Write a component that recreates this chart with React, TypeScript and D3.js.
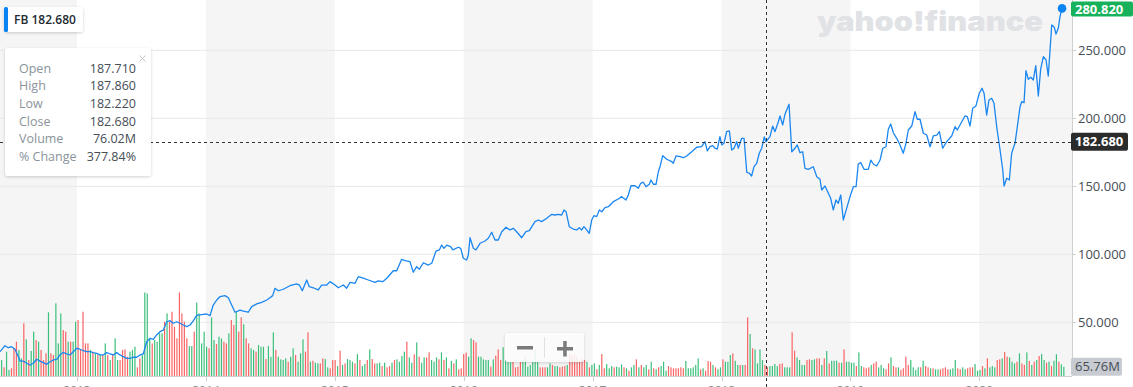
import React, { useEffect, useRef } from 'react';
import * as d3 from 'd3';

// weekly closes: time as decimal year, price in USD
const priceYears = [
  2012.403, 2012.441, 2012.467, 2012.493, 2012.519, 2012.545, 2012.558, 2012.583, 2012.61, 2012.635,
  2012.661, 2012.687, 2012.713, 2012.739, 2012.765, 2012.791, 2012.816, 2012.843, 2012.868, 2012.894,
  2012.92, 2012.946, 2012.971, 2012.998, 2013.023, 2013.049, 2013.075, 2013.101, 2013.126, 2013.153,
  2013.178, 2013.204, 2013.23, 2013.256, 2013.282, 2013.308, 2013.334, 2013.359, 2013.386, 2013.411,
  2013.437, 2013.463, 2013.489, 2013.514, 2013.541, 2013.566, 2013.592, 2013.618, 2013.644, 2013.67,
  2013.696, 2013.722, 2013.747, 2013.774, 2013.799, 2013.825, 2013.851, 2013.877, 2013.902, 2013.929,
  2013.954, 2013.98, 2014.006, 2014.032, 2014.057, 2014.084, 2014.109, 2014.148, 2014.174, 2014.2,
  2014.226, 2014.265, 2014.29, 2014.329, 2014.355, 2014.394, 2014.433, 2014.472, 2014.497, 2014.518,
  2014.536, 2014.562, 2014.6, 2014.652, 2014.704, 2014.725, 2014.748, 2014.782, 2014.802, 2014.833,
  2014.872, 2014.898, 2014.937, 2014.963, 2015.002, 2015.027, 2015.066, 2015.092, 2015.118, 2015.157,
  2015.182, 2015.221, 2015.26, 2015.312, 2015.338, 2015.372, 2015.403, 2015.454, 2015.48, 2015.519,
  2015.545, 2015.583, 2015.609, 2015.635, 2015.656, 2015.687, 2015.725, 2015.752, 2015.785, 2015.811,
  2015.829, 2015.847, 2015.868, 2015.899, 2015.915, 2015.958, 2015.977, 2015.997, 2016.023, 2016.036,
  2016.049, 2016.075, 2016.095, 2016.127, 2016.165, 2016.191, 2016.217, 2016.243, 2016.268, 2016.295,
  2016.328, 2016.359, 2016.385, 2016.411, 2016.45, 2016.483, 2016.509, 2016.553, 2016.579, 2016.605,
  2016.644, 2016.683, 2016.708, 2016.734, 2016.76, 2016.778, 2016.794, 2016.819, 2016.85, 2016.877,
  2016.897, 2016.915, 2016.933, 2016.954, 2016.974, 2016.993, 2017.011, 2017.032, 2017.052, 2017.071,
  2017.096, 2017.122, 2017.161, 2017.199, 2017.226, 2017.259, 2017.277, 2017.298, 2017.329, 2017.355,
  2017.373, 2017.393, 2017.414, 2017.44, 2017.453, 2017.471, 2017.492, 2017.51, 2017.523, 2017.544,
  2017.575, 2017.614, 2017.626, 2017.647, 2017.678, 2017.704, 2017.73, 2017.769, 2017.808, 2017.846,
  2017.872, 2017.89, 2017.911, 2017.932, 2017.95, 2017.967, 2017.988, 2018.002, 2018.019, 2018.04,
  2018.061, 2018.079, 2018.097, 2018.118, 2018.13, 2018.157, 2018.175, 2018.196, 2018.216, 2018.234,
  2018.252, 2018.273, 2018.293, 2018.312, 2018.332, 2018.345, 2018.376, 2018.397, 2018.415, 2018.441,
  2018.454, 2018.475, 2018.493, 2018.524, 2018.545, 2018.57, 2018.588, 2018.609, 2018.63, 2018.648,
  2018.673, 2018.712, 2018.739, 2018.764, 2018.777, 2018.803, 2018.829, 2018.847, 2018.867, 2018.888,
  2018.906, 2018.925, 2018.945, 2018.971, 2018.997, 2019.023, 2019.044, 2019.061, 2019.08, 2019.106,
  2019.139, 2019.158, 2019.178, 2019.204, 2019.23, 2019.251, 2019.276, 2019.294, 2019.313, 2019.333,
  2019.359, 2019.385, 2019.41, 2019.431, 2019.449, 2019.476, 2019.501, 2019.519, 2019.54, 2019.566,
  2019.592, 2019.618, 2019.643, 2019.67, 2019.69, 2019.716, 2019.747, 2019.786, 2019.812, 2019.829,
  2019.864, 2019.889, 2019.907, 2019.928, 2019.949, 2019.974, 2020.0, 2020.021, 2020.037, 2020.057,
  2020.075, 2020.096, 2020.114, 2020.135, 2020.161, 2020.182, 2020.192, 2020.213, 2020.233, 2020.251,
  2020.277, 2020.295, 2020.316, 2020.329, 2020.347, 2020.362, 2020.38, 2020.399, 2020.419, 2020.438,
  2020.458, 2020.476, 2020.497, 2020.518, 2020.535, 2020.562, 2020.582, 2020.595, 2020.613, 2020.626,
  2020.642,
];

const priceClose = [
  28.4, 32.8, 31.3, 32.1, 30.2, 24.7, 21.5, 21.5, 19.9, 18.6,
  19.9, 22.8, 21.5, 20.3, 19.1, 21.0, 22.3, 22.8, 26.0, 27.9,
  26.7, 26.0, 28.4, 30.9, 30.2, 29.1, 28.4, 28.4, 27.7, 27.2,
  26.0, 26.0, 27.7, 26.7, 26.0, 27.7, 26.0, 24.7, 23.5, 23.5,
  24.3, 24.3, 26.0, 26.7, 35.7, 38.2, 37.5, 40.7, 43.1, 44.3,
  50.4, 51.2, 49.3, 50.4, 49.3, 48.0, 46.8, 48.0, 51.0, 55.2,
  55.4, 55.9, 56.1, 54.9, 62.7, 66.4, 68.8, 69.6, 68.1, 62.7,
  57.4, 59.0, 58.3, 57.4, 61.5, 63.5, 64.7, 66.4, 68.1, 69.6,
  75.0, 73.2, 74.3, 76.9, 78.2, 77.4, 73.2, 81.1, 76.2, 75.4,
  73.8, 77.4, 77.4, 79.9, 77.4, 75.4, 77.4, 75.0, 79.4, 78.7,
  83.5, 82.4, 81.1, 79.4, 80.4, 79.9, 82.4, 87.9, 87.9, 96.3,
  95.3, 94.6, 86.8, 90.9, 89.0, 93.8, 92.1, 93.4, 102.4, 103.2,
  106.8, 104.4, 106.8, 105.6, 103.2, 105.2, 104.4, 97.1, 95.8, 99.5,
  112.2, 104.4, 103.2, 108.1, 109.8, 111.8, 116.2, 110.5, 110.5, 116.6,
  119.9, 117.9, 119.1, 116.6, 112.2, 116.6, 117.4, 124.0, 125.2, 124.0,
  126.5, 129.4, 128.9, 129.4, 128.9, 132.6, 131.3, 120.3, 118.6, 117.9,
  119.6, 117.9, 120.3, 117.9, 115.4, 125.2, 128.4, 127.7, 132.6, 131.3,
  134.3, 135.0, 138.7, 140.7, 142.4, 139.9, 143.6, 150.4, 150.4, 148.5,
  152.2, 153.0, 149.7, 151.5, 154.6, 151.5, 151.5, 160.7, 164.4, 172.5,
  169.9, 168.1, 166.9, 172.3, 171.8, 171.0, 172.3, 175.4, 178.7, 179.1,
  182.8, 176.0, 179.1, 179.9, 178.0, 177.4, 186.5, 180.4, 181.6, 190.2,
  190.7, 176.7, 178.0, 182.8, 178.0, 185.3, 185.3, 160.3, 159.6, 157.6,
  164.4, 166.9, 174.3, 178.0, 186.3, 182.68, 186.5, 194.3, 190.2, 197.5,
  201.7, 195.1, 203.2, 210.3, 175.4, 178.0, 180.4, 174.7, 175.4, 163.2,
  162.5, 164.4, 157.1, 155.2, 147.3, 150.2, 144.9, 141.2, 132.6, 139.9,
  137.5, 143.6, 125.2, 133.8, 142.4, 149.7, 149.7, 166.4, 167.4, 162.5,
  162.5, 169.3, 166.4, 164.9, 169.3, 178.0, 179.1, 191.9, 195.8, 189.4,
  185.3, 180.4, 174.3, 181.6, 191.4, 194.3, 204.9, 199.3, 199.3, 189.0,
  187.7, 179.1, 187.0, 187.7, 190.2, 178.0, 182.8, 187.0, 193.8, 191.4,
  197.5, 201.7, 201.2, 194.3, 207.4, 209.1, 218.4, 222.1, 218.4, 202.4,
  213.5, 214.7, 211.0, 193.8, 176.7, 162.0, 150.2, 155.9, 154.6, 174.3,
  181.6, 193.8, 208.5, 212.2, 211.5, 235.0, 228.7, 230.2, 228.2, 238.7,
  216.4, 236.0, 245.3, 242.9, 231.1, 268.6, 266.9, 262.0, 266.2, 274.7,
  280.82,
];

// weekly volume in millions of shares, one bar per week from the IPO week
const volumeStart = new Date(2012, 4, 18);
const weeklyVolume = [
  // 2012 - 2013
  600, 420,
  114, 62, 174, 43, 55, 198, 245, 186, 126, 376, 262, 114, 179, 317, 257, 245, 186, 114, 162, 455,
  162, 150, 519, 233, 447, 328, 317, 245, 245, 245, 388, 400, 186, 459, 233, 233, 186, 174, 162, 150,
  150, 150, 233, 150, 114, 150, 269, 114, 114, 186, 190, 138, 174, 186, 209, 62, 126, 150, 597, 590,
  269, 233, 257, 245, 305, 305, 388, 447, 388, 459, 352, 269, 597, 447, 388, 269, 214, 214, 317, 524,
  // 2014 - 2015
  447, 233, 317, 209, 198, 419, 257, 228, 281, 269, 245, 233, 305, 400, 364, 459, 317, 419, 369, 269,
  233, 198, 186, 174, 221, 209, 209, 121, 214, 138, 312, 186, 138, 119, 114, 126, 102, 138, 198, 150,
  102, 162, 262, 174, 312, 102, 109, 95, 90, 90, 126, 121, 62, 55, 114, 114, 71, 181, 79, 90,
  121, 114, 102, 90, 157, 114, 71, 86, 114, 190, 121, 90, 90, 95, 71, 95, 62, 71, 95, 114, 119, 102,
  // 2016 - 2018
  143, 174, 245, 133, 95, 155, 240, 138, 95, 133, 133, 169, 114, 102, 133, 119, 169, 114, 133, 55,
  107, 90, 119, 48, 55, 157, 167, 138, 269, 257, 240, 138, 138, 119, 114, 114, 67, 119, 145, 190,
  114, 205, 114, 102, 98, 102, 62, 67, 102, 114, 138, 67, 79, 102, 186, 102, 62, 62, 62, 62,
  90, 79, 71, 71, 62, 67, 71, 79, 157, 150, 157, 138, 109, 126, 114, 102, 62,
  79, 90, 48, 79, 157, 55, 86, 55, 71, 62, 67, 62, 83, 62, 55, 38, 62, 79, 119, 62,
  79, 62, 79, 48, 102, 55, 48, 62, 71, 102, 38, 71, 62, 55, 55,
  55, 62, 55, 107, 55, 55, 62, 79, 126, 48, 55, 38, 107, 102, 79, 62,
  48, 62, 119, 102, 102, 150, 162, 109, 79, 79, 79, 79, 419, 300, 198, 190, 90, 190, 114, 79,
  62, 71, 71, 86, 71, 86, 90, 62, 62, 62, 312, 181, 133, 114,
  // 2018 - 2020
  79, 79,
  114, 119, 114, 119, 126, 126, 79, 126, 179, 90, 109, 109, 109, 95, 95, 190, 102, 102, 95, 95,
  71, 169, 71, 62, 55, 62, 79, 90, 102, 62, 79, 55, 48, 90, 133, 71, 62, 62, 43, 55,
  138, 79, 114, 62, 43, 62, 62, 109, 71, 62, 55, 55, 48, 48, 48, 55, 62,
  48, 48, 55, 114, 55, 48, 62, 48, 55, 62, 62, 86, 38, 43, 71, 55,
  126, 62, 71, 62, 114, 119, 126, 171, 138, 133, 102, 90, 102, 162, 90, 79, 169, 107, 79, 102,
  114, 143, 157, 114, 95, 102, 71, 109, 155, 102, 83, 65.76,
];
// g = week closed up, r = week closed down
const weeklyDir = (
  'rr' +
  'grggrrrggr' + 'grggrgrrrg' + 'rrgggrrgrg' + 'grrrrrgrgr' + 'grgrgrggrr' + 'rrgggrrggg' + 'grggggrgrr' + 'rrrrrrggrg' +
  'ggggrggrgg' + 'rrgrrgrrgr' + 'rggrgggrgg' + 'grggggrggr' + 'gggrrgrggr' + 'rggrrrgrgr' + 'gggrgrggrg' + 'rrggrgrrgr' + 'gg' +
  'ggrggrgrgg' + 'rrgggrgrgr' + 'grgrrrrggr' + 'rgggggrgrr' + 'rggggrrrrg' + 'ggggggrrrg' + 'grggrrrgrr' + 'rrrrrgr' +
  'ggrgrrgggr' + 'gggrgrggrg' + 'rggrgrgrgg' + 'grrrr' + 'rrrggggggr' + 'grrrgr' +
  'ggrgggrggr' + 'grrgrggggr' + 'rggggrrggg' + 'rrgg' +
  'gg' + 'rrggrrgrgr' + 'gggrgrgggg' + 'rggrrrgrrg' + 'ggrrgrrgrr' + 'rrggggrgrr' + 'grggrrr' +
  'rgggrrggrrrgggrg' + 'rgggrrgrrgggrgrrgrgrgrggrgrggrgg'
).split('');

const yearTicks = [2013, 2014, 2015, 2016, 2017, 2018, 2019, 2020];
const priceTicks = [50, 100, 150, 200, 250];

// crosshair / tooltip
const crossYear = 2018.345;
const crossClose = 182.68;
const tipLabels = ['Open', 'High', 'Low', 'Close', 'Volume', '% Change'];
const tipValues = ['187.710', '187.860', '182.220', '182.680', '76.02M', '377.84%'];

const W = 1133;
const H = 387;
const plotRight = 1072;
const plotBottom = 376;
const font = "'Open Sans', 'Noto Sans', sans-serif";

const decYear = (d: Date) => {
  const y = d.getFullYear();
  const s = new Date(y, 0, 1).getTime();
  const e = new Date(y + 1, 0, 1).getTime();
  return y + (d.getTime() - s) / (e - s);
};

const App = () => {
  const ref = useRef<SVGSVGElement | null>(null);

  useEffect(() => {
    const svg = d3.select(ref.current);
    svg.selectAll('*').remove();

    const x = d3.scaleLinear().domain([2013, 2020]).range([77, 979.3]);
    const y = d3.scaleLinear().domain([0, 250]).range([390.3, 50.3]);
    const yVol = d3.scaleLinear().domain([0, 600]).range([plotBottom, plotBottom - 84]);

    const defs = svg.append('defs');
    defs.append('clipPath').attr('id', 'plot-clip')
      .append('rect').attr('x', 0).attr('y', 0).attr('width', plotRight).attr('height', plotBottom);
    const shadow = defs.append('filter').attr('id', 'shadow')
      .attr('x', '-10%').attr('y', '-10%').attr('width', '120%').attr('height', '130%');
    shadow.append('feDropShadow').attr('dx', 0).attr('dy', 1).attr('stdDeviation', 1.5)
      .attr('flood-color', '#000').attr('flood-opacity', 0.18);

    const plot = svg.append('g').attr('clip-path', 'url(#plot-clip)');

    // alternating year bands
    const bandYears = d3.range(2012, 2021).filter((yr) => yr % 2 === 0);
    plot.append('g').selectAll('rect').data(bandYears).enter().append('rect')
      .attr('x', (d) => Math.max(0, x(d)))
      .attr('y', 0)
      .attr('width', (d) => Math.min(plotRight, x(d + 1)) - Math.max(0, x(d)))
      .attr('height', plotBottom)
      .attr('fill', '#f5f5f5');

    // horizontal grid
    plot.append('g').selectAll('line').data(priceTicks).enter().append('line')
      .attr('x1', 0).attr('x2', plotRight)
      .attr('y1', (d) => y(d)).attr('y2', (d) => y(d))
      .attr('stroke', '#e8e8e8').attr('stroke-width', 1);

    // watermark
    svg.append('text')
      .attr('x', 817).attr('y', 31)
      .attr('textLength', 226).attr('lengthAdjust', 'spacingAndGlyphs')
      .attr('font-family', "Inter, 'DejaVu Sans', sans-serif")
      .attr('font-weight', 900).attr('font-size', 27)
      .attr('fill', '#e0e2e6')
      .text('yahoo!finance');

    // volume bars
    const vols = weeklyVolume.map((v, i) => ({
      t: decYear(d3.timeDay.offset(volumeStart, i * 7)),
      v,
      up: weeklyDir[i] !== 'r',
    }));
    plot.append('g').selectAll('rect').data(vols).enter().append('rect')
      .attr('x', (d) => x(d.t) - 0.6)
      .attr('y', (d) => yVol(d.v))
      .attr('width', 1.2)
      .attr('height', (d) => plotBottom - yVol(d.v))
      .attr('fill', (d) => (d.up ? '#3bc07c' : '#f96464'));

    // price line
    const pts = priceYears.map((t, i) => ({ t, p: priceClose[i] }));
    const line = d3.line<{ t: number; p: number }>().x((d) => x(d.t)).y((d) => y(d.p));
    plot.append('path').datum(pts)
      .attr('d', line)
      .attr('fill', 'none')
      .attr('stroke', '#1a86f0')
      .attr('stroke-width', 1.3)
      .attr('stroke-linejoin', 'round');

    const last = pts[pts.length - 1];
    svg.append('circle').attr('cx', x(last.t)).attr('cy', y(last.p)).attr('r', 4.3).attr('fill', '#0a84f5');

    // axes lines
    svg.append('line').attr('x1', plotRight + 0.5).attr('x2', plotRight + 0.5).attr('y1', 0).attr('y2', plotBottom)
      .attr('stroke', '#cfcfcf');
    svg.append('line').attr('x1', 0).attr('x2', plotRight).attr('y1', plotBottom + 0.5).attr('y2', plotBottom + 0.5)
      .attr('stroke', '#cfcfcf');

    // x ticks and (cropped) labels
    const xt = svg.append('g');
    xt.selectAll('line').data(yearTicks).enter().append('line')
      .attr('x1', (d) => Math.round(x(d)) + 0.5).attr('x2', (d) => Math.round(x(d)) + 0.5)
      .attr('y1', plotBottom).attr('y2', plotBottom + 5)
      .attr('stroke', '#cfcfcf');
    xt.selectAll('text').data(yearTicks).enter().append('text')
      .attr('x', (d) => x(d)).attr('y', 395)
      .attr('text-anchor', 'middle')
      .attr('font-family', font).attr('font-size', 12).attr('fill', '#8a8a8a')
      .text((d) => String(d));

    // y ticks and labels
    const yt = svg.append('g');
    yt.selectAll('line').data(priceTicks).enter().append('line')
      .attr('x1', plotRight).attr('x2', plotRight + 4)
      .attr('y1', (d) => Math.round(y(d)) + 0.5).attr('y2', (d) => Math.round(y(d)) + 0.5)
      .attr('stroke', '#cfcfcf');
    yt.selectAll('text').data(priceTicks).enter().append('text')
      .attr('x', plotRight + 6).attr('y', (d) => y(d) + 4.6)
      .attr('font-family', font).attr('font-size', 13).attr('fill', '#464e56')
      .text((d) => d3.format('.3f')(d));

    // crosshair
    svg.append('line')
      .attr('x1', Math.round(x(crossYear)) + 0.5).attr('x2', Math.round(x(crossYear)) + 0.5)
      .attr('y1', 0).attr('y2', H)
      .attr('stroke', '#333').attr('stroke-dasharray', '3,3');
    svg.append('line')
      .attr('x1', 0).attr('x2', plotRight)
      .attr('y1', Math.round(y(crossClose)) + 0.5).attr('y2', Math.round(y(crossClose)) + 0.5)
      .attr('stroke', '#333').attr('stroke-dasharray', '3,3');

    // right side value tags
    const tag = (cy: number, w: number, h: number, fill: string, color: string, label: string, bold: boolean, top?: number) => {
      const ty = top !== undefined ? top : cy - h / 2;
      svg.append('rect').attr('x', plotRight - 1).attr('y', ty).attr('width', w).attr('height', h)
        .attr('rx', 2).attr('fill', fill);
      svg.append('text').attr('x', plotRight + 3).attr('y', ty + h / 2 + 4.6)
        .attr('font-family', font).attr('font-size', 13)
        .attr('font-weight', bold ? 700 : 400).attr('fill', color)
        .text(label);
    };
    tag(y(last.p), 62, 15, '#17b15b', '#fff', d3.format('.3f')(last.p), true, 1.5);
    tag(y(crossClose), 57, 18, '#2b2b2b', '#fff', d3.format('.3f')(crossClose), true);
    const lastVol = weeklyVolume[weeklyVolume.length - 1];
    tag(yVol(lastVol), 51, 18, '#c8cbd1', '#464e56', d3.format('.2f')(lastVol) + 'M', false);

    // zoom buttons
    const zb = svg.append('g');
    zb.append('rect').attr('x', 505).attr('y', 333).attr('width', 79).attr('height', 29).attr('rx', 3)
      .attr('fill', '#fff').attr('fill-opacity', 0.85).attr('filter', 'url(#shadow)');
    zb.append('line').attr('x1', 544.5).attr('x2', 544.5).attr('y1', 337).attr('y2', 358).attr('stroke', '#e2e2e2');
    zb.append('rect').attr('x', 517).attr('y', 346).attr('width', 16).attr('height', 3.5).attr('fill', '#7a7a7a');
    zb.append('rect').attr('x', 557).attr('y', 347).attr('width', 16).attr('height', 3.5).attr('fill', '#7a7a7a');
    zb.append('rect').attr('x', 563.2).attr('y', 341).attr('width', 3.5).attr('height', 15.5).attr('fill', '#7a7a7a');

    // symbol tag top-left
    const st = svg.append('g');
    st.append('rect').attr('x', 4).attr('y', 7).attr('width', 79).attr('height', 25).attr('rx', 3)
      .attr('fill', '#fff').attr('filter', 'url(#shadow)');
    st.append('rect').attr('x', 4).attr('y', 7).attr('width', 4).attr('height', 25).attr('rx', 1.5).attr('fill', '#0a84f5');
    st.append('text').attr('x', 14).attr('y', 24)
      .attr('font-family', font).attr('font-size', 12).attr('font-weight', 600).attr('fill', '#232a31')
      .text(`FB ${d3.format('.3f')(crossClose)}`);

    // tooltip
    const tip = svg.append('g');
    tip.append('rect').attr('x', 5).attr('y', 48).attr('width', 146).attr('height', 128).attr('rx', 3)
      .attr('fill', '#fff').attr('filter', 'url(#shadow)');
    tip.append('path').attr('d', 'M139.5,55.5 L145.5,61.5 M145.5,55.5 L139.5,61.5')
      .attr('stroke', '#c4c4c4').attr('stroke-width', 1);
    tipLabels.forEach((lab, i) => {
      const by = 72.5 + i * 17.7;
      tip.append('text').attr('x', 19).attr('y', by)
        .attr('font-family', font).attr('font-size', 12.5).attr('fill', '#8a939b').text(lab);
      tip.append('text').attr('x', 136).attr('y', by).attr('text-anchor', 'end')
        .attr('font-family', font).attr('font-size', 12.5).attr('fill', '#464e56').text(tipValues[i]);
    });
  }, []);

  return (
    <div>
      <style>{'body{margin:0;background:#fff}'}</style>
      <svg ref={ref} width={W} height={H} style={{ display: 'block' }} />
    </div>
  );
};

export default App;
